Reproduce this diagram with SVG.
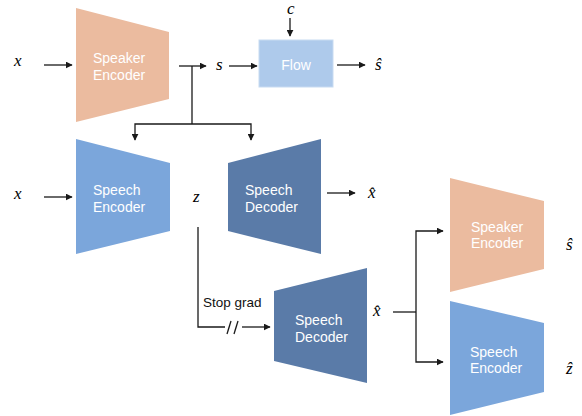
<svg xmlns="http://www.w3.org/2000/svg" width="582" height="416" viewBox="0 0 582 416">
<defs>
<marker id="ah" viewBox="0 0 10 10" refX="9" refY="5" markerWidth="7" markerHeight="7" markerUnits="userSpaceOnUse" orient="auto">
<path d="M0,0 L10,5 L0,10 z" fill="#1a1a1a"/>
</marker>
<style>
.spk{fill:#ebbb9f}
.enc{fill:#7ba6db}
.dec{fill:#5a7ba8}
.flow{fill:#aecaeb;stroke:#c8dbf1;stroke-width:1}
.lbl{font-family:"Liberation Sans",Arial,sans-serif;font-size:14px;fill:#ffffff}
.math{font-family:"Liberation Serif","Times New Roman",serif;font-style:italic;font-size:17px;fill:#000}
.txt{font-family:"Liberation Sans",Arial,sans-serif;font-size:13.5px;fill:#111}
.ln{fill:none;stroke:#1a1a1a;stroke-width:1.3}
.ar{fill:none;stroke:#1a1a1a;stroke-width:1.3;marker-end:url(#ah)}
</style>
</defs>
<rect width="582" height="416" fill="#ffffff"/>

<g id="speaker-encoder-top">
<polygon class="spk" points="76,8 169,32 169,99 76,122"/>
<text class="lbl" x="93" y="63">Speaker</text>
<text class="lbl" x="93" y="80">Encoder</text>
</g>
<g id="flow">
<rect class="flow" x="259" y="40" width="74" height="47"/>
<text class="lbl" x="296" y="70" text-anchor="middle">Flow</text>
</g>
<g id="speech-encoder-left">
<polygon class="enc" points="76,139 170,163 170,231 76,254"/>
<text class="lbl" x="93" y="195">Speech</text>
<text class="lbl" x="93" y="212">Encoder</text>
</g>
<g id="speech-decoder-top">
<polygon class="dec" points="228,163 321,139 321,254 228,231"/>
<text class="lbl" x="245" y="195">Speech</text>
<text class="lbl" x="245" y="212">Decoder</text>
</g>
<g id="speech-decoder-bottom">
<polygon class="dec" points="274,291 367,268 367,383 274,361"/>
<text class="lbl" x="295" y="325">Speech</text>
<text class="lbl" x="295" y="342">Decoder</text>
</g>
<g id="speaker-encoder-right">
<polygon class="spk" points="450,178 544,201 544,269 450,292"/>
<text class="lbl" x="471" y="232">Speaker</text>
<text class="lbl" x="471" y="248">Encoder</text>
</g>
<g id="speech-encoder-right">
<polygon class="enc" points="450,301 544,323 544,392 450,415"/>
<text class="lbl" x="470" y="357">Speech</text>
<text class="lbl" x="470" y="373">Encoder</text>
</g>

<g id="labels">
<text class="math" x="14" y="66">x</text>
<text class="math" x="216" y="70">s</text>
<text class="math" x="287" y="14">c</text>
<text class="math" x="375" y="70">ŝ</text>
<text class="math" x="14" y="199">x</text>
<text class="math" x="193" y="202">z</text>
<text class="math" x="368" y="198">x̂</text>
<text class="math" x="373" y="316">x̂</text>
<text class="math" x="566" y="250">ŝ</text>
<text class="math" x="566" y="374">ẑ</text>
<text class="txt" x="203" y="307">Stop grad</text>
</g>

<g id="connectors">
<line class="ar" x1="44" y1="65" x2="72" y2="65"/>
<line class="ar" x1="179" y1="66" x2="206" y2="66"/>
<polyline class="ln" points="192,66 192,124"/>
<polyline class="ar" points="192,124 135,124 135,140"/>
<polyline class="ar" points="192,124 251,124 251,140"/>
<line class="ar" x1="229" y1="66" x2="257" y2="66"/>
<line class="ar" x1="290" y1="18" x2="290" y2="36"/>
<line class="ar" x1="337" y1="65" x2="365" y2="65"/>
<line class="ar" x1="44" y1="197" x2="72" y2="197"/>
<line class="ar" x1="327" y1="193" x2="355" y2="193"/>
<polyline class="ln" points="198,227 198,327 225,327"/>
<line class="ln" x1="227" y1="334" x2="231" y2="321"/>
<line class="ln" x1="234" y1="334" x2="238" y2="321"/>
<line class="ar" x1="242" y1="327" x2="270" y2="327"/>
<polyline class="ln" points="393,312 416,312"/>
<polyline class="ar" points="416,312 416,231 443,231"/>
<polyline class="ar" points="416,312 416,362 443,362"/>
</g>
</svg>
